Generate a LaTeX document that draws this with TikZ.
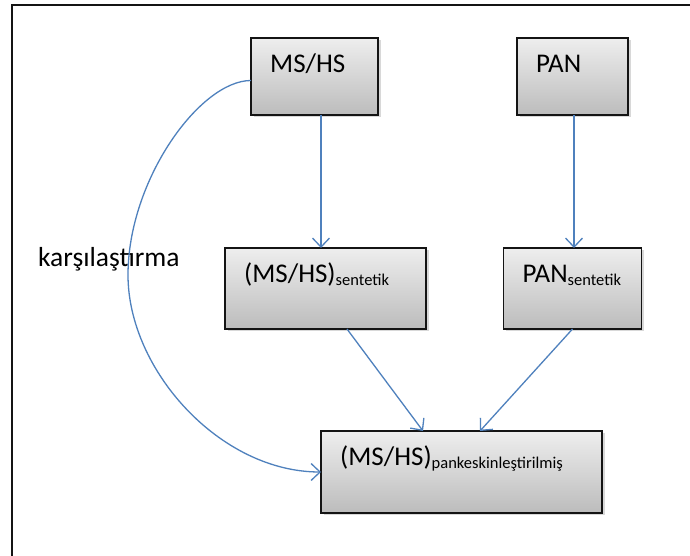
\documentclass[tikz,border=0pt]{standalone}
\usepackage{fontspec}
\setmainfont{Carlito}
\usetikzlibrary{arrows.meta, shadows, positioning}

\definecolor{lineblue}{RGB}{79,129,189}
\definecolor{boxtop}{RGB}{238,238,238}
\definecolor{boxbottom}{RGB}{188,188,188}
\definecolor{framegray}{RGB}{20,20,20}

\newcommand{\subtxt}[1]{\raisebox{-2.5pt}{\fontsize{16.5}{18}\selectfont #1}}

\tikzset{
	box/.style={draw=framegray, line width=1.6pt, top color=boxtop, bottom color=boxbottom,
		drop shadow={shadow xshift=2.5pt, shadow yshift=-2.5pt, opacity=0.3},
		inner sep=0pt, outer sep=0pt},
	% text sits in the top left corner of each box
	tag/.style={label={[anchor=base west, inner sep=0pt, xshift=19pt, yshift=-35pt,
		font=\fontsize{27}{30}\selectfont]north west:#1}},
	flow/.style={draw=lineblue, line width=1.3pt, -{Straight Barb[length=9pt, width=17pt]}}
}

\begin{document}
\begin{tikzpicture}[x=1pt, y=1pt]
	\useasboundingbox (0,0) rectangle (690,556);
	\fill[white] (0,0) rectangle (690,556);
	\draw[framegray, line width=1.8pt] (12,-5) -- (12,551.3) -- (700,551.3);
	
	% top row
	\node[box, minimum width=127pt, minimum height=77pt, tag={MS/HS}] (mshs) at (314.5,479.5) {};
	\node[box, minimum width=111pt, minimum height=77pt, tag={PAN}, right=139pt of mshs] (pan) {};
	
	% middle row
	\node[box, minimum width=201pt, minimum height=81pt, tag={(MS/HS)\subtxt{sentetik}},
		below=133pt of mshs, xshift=11pt] (synms) {};
	\node[box, minimum width=138pt, minimum height=81pt, tag={PAN\subtxt{sentetik}},
		below=133pt of pan] (synpan) {};
	
	% result
	\node[box, minimum width=281pt, minimum height=82pt, tag={(MS/HS)\subtxt{pankeskinleştirilmiş}},
		below=102pt of synms, xshift=136pt] (fused) {};
	
	\node[anchor=base west, inner sep=0pt, font=\fontsize{27.5}{30}\selectfont] (cmp) at (38,289) {karşılaştırma};
	
	\draw[flow] ([xshift=6.5pt]mshs.south) -- ([xshift=6.5pt]mshs.south |- synms.north);
	\draw[flow] ([xshift=1.5pt]pan.south) -- ([xshift=1.5pt]pan.south |- synpan.north);
	\draw[flow] ([xshift=21.5pt]synms.south) -- ([xshift=-38.5pt]fused.north);
	\draw[flow] (synpan.south) -- ([xshift=18.5pt]fused.north);
	\draw[flow] ([yshift=-4pt]mshs.west) .. controls +(-51,0) and +(0,95) .. (128,281)
		.. controls +(0,-95) and +(-101,0) .. (fused.west);
	
\end{tikzpicture}
\end{document}
